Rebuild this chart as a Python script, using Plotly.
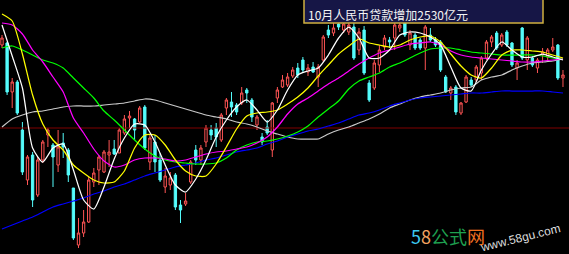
import plotly.graph_objects as go

# ---------------- data (price-like units) ----------------
idx = list(range(111))
opens = [3332,3340,3144,3184,2992,2792,2892,2732,2872,2972,2932,2852,2940,2912,2760,2532,2580,2624,2784,2832,
         2824,2892,2916,2900,2980,3040,3036,3024,3084,2864,2944,2872,2764,2772,2812,2692,2696,2784,2912,2872,
         2944,2992,3000,2952,3080,3104,3092,3100,3152,3112,3012,2964,3004,2912,3120,3164,3172,3208,3240,3272,
         3224,3244,3204,3272,3392,3380,3416,3392,3384,3404,3312,3392,3180,3160,3252,3324,3352,3360,3400,3420,
         3332,3372,3352,3320,3372,3352,3344,3204,3140,3164,3060,3104,3192,3192,3220,3280,3344,3380,3332,3384,
         3340,3240,3400,3272,3280,3240,3292,3284,3312,3332,3200]
highs = [3372,3344,3200,3192,3024,2892,2904,2884,2952,3000,2940,2992,2980,2920,2760,2640,2672,2804,2840,2892,
         2912,2952,2952,3000,3052,3068,3040,3088,3092,2972,2972,2900,2840,2824,2820,2712,2740,2872,2932,2932,
         3012,3012,3020,3060,3120,3144,3100,3164,3160,3120,3052,2980,3032,3104,3164,3212,3220,3244,3260,3284,
         3256,3264,3256,3372,3412,3424,3432,3432,3432,3420,3400,3408,3192,3272,3332,3372,3364,3420,3420,3424,
         3392,3380,3360,3412,3400,3364,3352,3212,3168,3172,3104,3212,3204,3252,3288,3352,3372,3388,3380,3392,
         3344,3272,3404,3368,3288,3280,3320,3320,3360,3336,3232]
lows = [3320,3132,3080,3052,2812,2772,2684,2724,2860,2924,2764,2824,2880,2784,2552,2520,2564,2620,2764,2772,
        2820,2844,2892,2900,2972,3000,2952,3020,2912,2832,2824,2784,2740,2752,2672,2620,2688,2776,2852,2852,
        2924,2952,2924,2944,3052,3044,3052,3092,3100,3024,2992,2932,2972,2884,3100,3160,3164,3200,3200,3224,
        3208,3220,3164,3264,3360,3368,3392,3380,3372,3272,3292,3212,3104,3152,3224,3312,3320,3312,3384,3364,
        3312,3312,3312,3232,3344,3324,3224,3140,3112,3052,3052,3100,3164,3184,3192,3272,3324,3312,3324,3324,
        3244,3192,3272,3232,3244,3220,3260,3272,3304,3192,3164]
closes = [3360,3144,3184,3060,2824,2884,2712,2872,2944,2992,2884,2924,2924,2812,2560,2580,2624,2792,2820,2884,
          2904,2904,2896,2992,3036,3048,2992,3080,2920,2960,2864,2792,2808,2800,2684,2672,2708,2864,2872,2920,
          3000,2972,2964,3052,3112,3084,3064,3140,3140,3044,3044,2944,2980,3100,3152,3192,3204,3232,3212,3232,
          3240,3224,3244,3364,3372,3400,3404,3416,3412,3280,3384,3220,3112,3260,3312,3360,3344,3412,3412,3372,
          3380,3320,3320,3404,3352,3332,3232,3144,3160,3064,3100,3204,3172,3244,3280,3344,3364,3320,3372,3332,
          3252,3260,3280,3360,3252,3272,3304,3312,3324,3200,3212]

ma_x = list(range(0, 111, 2))
ma_white = [3412,3288,3160,2920,2864,2920,2936,2832,2712,2676,2764,2876,2960,3016,3012,2944,2852,2772,2744,2796,
            2872,2964,3032,3084,3112,3072,3024,3072,3152,3212,3228,3240,3292,3360,3404,3360,3280,3280,3312,3372,
            3384,3380,3364,3332,3244,3160,3148,3232,3296,3344,3312,3284,3284,3296,3284,3272]
ma_yellow = [3456,3428,3296,3132,3016,2952,2912,2852,2820,2792,2780,2784,2828,2920,2972,2972,2932,2872,2828,2808,
             2808,2856,2924,2996,3048,3060,3064,3072,3096,3124,3160,3208,3252,3296,3328,3356,3340,3332,3324,3332,
             3352,3364,3368,3344,3296,3248,3212,3200,3240,3292,3312,3312,3308,3304,3292,3280]
ma_magenta = [3420,3412,3376,3312,3264,3204,3144,3040,2980,2916,2868,2844,2852,2872,2880,2880,2876,2868,2872,2884,
              2896,2904,2908,2916,2924,2940,2964,3004,3056,3096,3120,3148,3176,3200,3228,3256,3280,3300,3312,3324,
              3336,3340,3344,3332,3308,3292,3284,3280,3276,3272,3268,3264,3264,3268,3272,3276]
ma_green = [3320,3328,3312,3292,3272,3260,3240,3200,3160,3120,3068,3032,2992,2952,2916,2888,2872,2864,2860,2856,
            2856,2860,2880,2912,2932,2944,2948,2956,2968,2984,3008,3044,3076,3108,3156,3188,3204,3220,3244,3260,
            3280,3300,3316,3320,3320,3312,3304,3300,3296,3292,3292,3292,3292,3288,3280,3276]
ma_gray = [3004,3036,3052,3064,3068,3076,3084,3088,3088,3088,3092,3096,3100,3108,3116,3112,3100,3088,3076,3064,
           3052,3044,3036,3024,3016,3004,2988,2976,2964,2956,2956,2956,2976,2992,3004,3020,3036,3056,3080,3096,
           3112,3124,3132,3140,3152,3160,3164,3192,3204,3212,3232,3248,3260,3264,3268,3276]
ma_blue = [2596,2612,2628,2644,2664,2684,2696,2708,2720,2736,2748,2764,2776,2792,2808,2820,2832,2844,2852,2860,
           2872,2880,2892,2904,2912,2920,2936,2948,2964,2976,2988,2996,3008,3020,3036,3052,3060,3072,3088,3100,
           3112,3120,3124,3128,3132,3136,3140,3140,3144,3148,3148,3148,3148,3148,3144,3140]
ref_level = 3000
note_text = "10月人民币贷款增加2530亿元"

# ---------------- figure ----------------
fig = go.Figure()

fig.add_trace(go.Scatter(x=[-1, 112], y=[ref_level, ref_level], mode="lines",
                         line=dict(color="#800000", width=1), hoverinfo="skip"))

fig.add_trace(go.Candlestick(
    x=idx, open=opens, high=highs, low=lows, close=closes,
    increasing=dict(line=dict(color="#ff5454", width=1), fillcolor="#000000"),
    decreasing=dict(line=dict(color="#54fcfc", width=1), fillcolor="#54fcfc"),
    whiskerwidth=0,
))

for ys, col in [(ma_gray, "#c8c8c8"), (ma_blue, "#0000ff"), (ma_green, "#00ff00"),
                (ma_magenta, "#ff00ff"), (ma_yellow, "#ffff00"), (ma_white, "#ffffff")]:
    fig.add_trace(go.Scatter(x=ma_x, y=ys, mode="lines",
                             line=dict(color=col, width=1.25, shape="spline", smoothing=0.6),
                             hoverinfo="skip"))

W, H = 569, 254
fig.add_shape(type="rect", xref="paper", yref="paper",
              x0=304 / W, x1=543 / W, y0=1 - 23 / H, y1=1.2,
              line=dict(color="#d0b040", width=1.5), fillcolor="#161646", layer="above")

fig.add_annotation(xref="paper", yref="paper", x=306 / W, y=1 - 14 / H,
                   xanchor="left", yanchor="middle", showarrow=False,
                   text=note_text,
                   font=dict(family="Noto Sans CJK SC", size=12, color="#f4f4f4"))

fig.add_annotation(xref="paper", yref="paper", x=409 / W, y=1 - 236 / H,
                   xanchor="left", yanchor="middle", showarrow=False,
                   text='<span style="color:#3cc8f0">5</span><span style="color:#f4a460">8</span>'
                        '<span style="color:#1fa050">公式</span><span style="color:#f07020">网</span>',
                   font=dict(family="Noto Sans CJK SC", size=18))

fig.add_annotation(xref="paper", yref="paper", x=520 / W, y=1 - 238 / H,
                   xanchor="center", yanchor="middle", showarrow=False,
                   text="www.58gu.com", textangle=-14,
                   font=dict(family="Liberation Sans", size=12, color="#dcdcdc"))

fig.update_layout(
    width=W, height=H, margin=dict(l=0, r=0, t=0, b=0),
    paper_bgcolor="#000000", plot_bgcolor="#000000",
    showlegend=False, boxgap=0.35,
    xaxis=dict(range=[-0.392, 111.18], visible=False, rangeslider=dict(visible=False), fixedrange=True),
    yaxis=dict(range=[2496, 3512], visible=False, fixedrange=True),
)

fig.write_html("out.html", config={"displayModeBar": False})
